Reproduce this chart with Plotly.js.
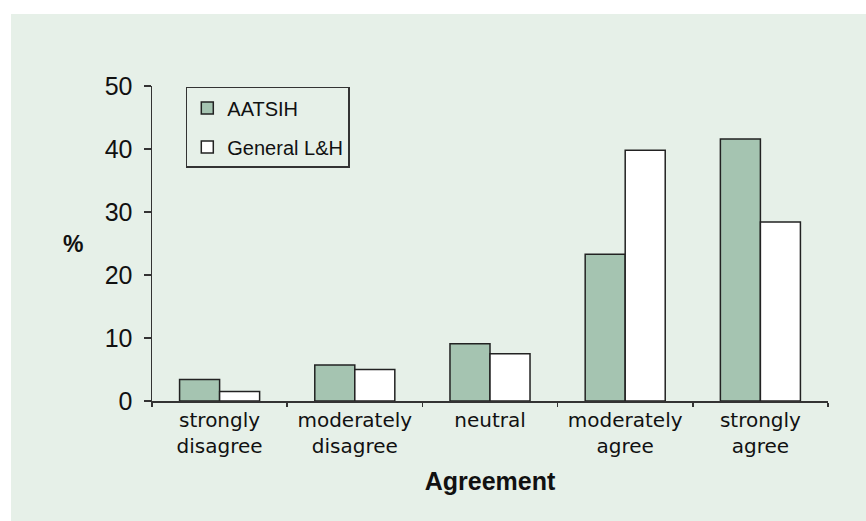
<!DOCTYPE html>
<html>
<head>
<meta charset="utf-8">
<script src="https://cdn.plot.ly/plotly-3.0.1.min.js"></script>
<style>html,body{margin:0;padding:0;background:#fff;}#chart{width:866px;height:521px;}</style>
</head>
<body>
<div id="chart"></div>
<script>
const categories = ["strongly<br>disagree", "moderately<br>disagree", "neutral", "moderately<br>agree", "strongly<br>agree"];
const seriesNames = ["AATSIH", "General L&H"];
const aatsih = [3.4, 5.7, 9.1, 23.3, 41.6];
const generalLH = [1.5, 5.0, 7.5, 39.8, 28.4];
const yTicks = [0, 10, 20, 30, 40, 50];

const bg = "#e6f0e8";
const traces = [
  {type: "bar", name: seriesNames[0], x: categories, y: aatsih, legendgroup: "a",
   marker: {color: "#a5c4b1", line: {color: "#222", width: 1.5}}},
  {type: "bar", name: seriesNames[1], x: categories, y: generalLH, legendgroup: "b",
   marker: {color: "#ffffff", line: {color: "#222", width: 1.5}}}
];

const layout = {
  width: 866, height: 521,
  paper_bgcolor: "#ffffff", plot_bgcolor: "rgba(0,0,0,0)",
  margin: {l: 152, r: 38, t: 86, b: 120},
  barmode: "group", bargap: 0.408, bargroupgap: 0,
  showlegend: true,
  legend: {x: 0.05, y: 0.997, xanchor: "left", yanchor: "top",
    bgcolor: "rgba(0,0,0,0)", bordercolor: "#333", borderwidth: 1.5,
    font: {family: "Liberation Sans, Arial", size: 20, color: "#111"},
    traceorder: "grouped", tracegroupgap: 10, itemwidth: 30},
  shapes: [{type: "rect", xref: "paper", yref: "paper", layer: "below",
    x0: -141/676, x1: 714/676, y0: -120/315, y1: 387/315,
    fillcolor: bg, line: {width: 0}}],
  annotations: [{text: "<b>%</b>", xref: "paper", yref: "paper", x: -79/676, y: 0.5,
    xanchor: "center", yanchor: "middle", showarrow: false,
    font: {family: "Liberation Sans, Arial", size: 23, color: "#111"}}],
  xaxis: {
    type: "category",
    showline: true, linecolor: "#333", linewidth: 1.5,
    ticks: "outside", tickson: "boundaries", ticklen: 4, tickcolor: "#333", tickwidth: 1.5,
    tickfont: {family: "DejaVu Sans", size: 20, color: "#111"},
    showgrid: false, zeroline: false,
    title: {text: "<b>Agreement</b>", font: {family: "Liberation Sans, Arial", size: 25, color: "#111"}, standoff: 16}
  },
  yaxis: {
    range: [0, 50], tickvals: yTicks,
    showline: true, linecolor: "#333", linewidth: 1.5,
    ticks: "outside", ticklen: 7, tickcolor: "#333", tickwidth: 1.5,
    tickfont: {family: "Liberation Sans, Arial", size: 25, color: "#111"},
    ticklabelstandoff: 6,
    showgrid: false, zeroline: false
  }
};

Plotly.newPlot("chart", traces, layout, {displayModeBar: false, staticPlot: true});
</script>
</body>
</html>
